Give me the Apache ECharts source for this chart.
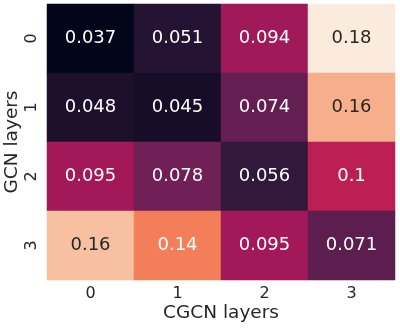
<!DOCTYPE html>
<html>
<head>
<meta charset="utf-8">
<script src="https://cdn.jsdelivr.net/npm/echarts@6/dist/echarts.min.js"></script>
<style>html,body{margin:0;padding:0;background:#fff}#c{width:400px;height:328px}</style>
</head>
<body>
<div id="c"></div>
<script>
const xCategories = ['0', '1', '2', '3'];
const yCategories = ['0', '1', '2', '3'];
const row0 = [0.037, 0.051, 0.094, 0.180];
const row1 = [0.048, 0.045, 0.074, 0.158];
const row2 = [0.095, 0.078, 0.056, 0.104];
const row3 = [0.164, 0.142, 0.095, 0.071];
const rows = [row0, row1, row2, row3];
const xName = 'CGCN layers';
const yName = 'GCN layers';

function fmtG(v) { return String(parseFloat(v.toPrecision(2))); }

const data = [];
rows.forEach((r, yi) => r.forEach((v, xi) => {
  data.push({ value: [xi, yi, v], label: { color: v > 0.15 ? '#262626' : '#ffffff' } });
}));

const chart = echarts.init(document.getElementById('c'), null, { renderer: 'canvas' });
const font = 'DejaVu Sans';
chart.setOption({
  animation: false,
  grid: { left: 47, right: 5, top: 4, bottom: 48, containLabel: false, outerBoundsMode: 'none' },
  xAxis: {
    type: 'category', data: xCategories,
    name: xName, nameLocation: 'middle', nameGap: 24, nameMoveOverlap: false,
    nameTextStyle: { fontFamily: font, fontSize: 18.5, color: '#262626' },
    axisLine: { show: false }, axisTick: { show: false }, splitLine: { show: false },
    axisLabel: { fontFamily: font, fontSize: 16, color: '#262626', margin: 6 }
  },
  yAxis: {
    type: 'category', data: yCategories, inverse: true,
    name: yName, nameLocation: 'middle', nameGap: 25, nameMoveOverlap: false,
    nameTextStyle: { fontFamily: font, fontSize: 18.5, color: '#262626' },
    axisLine: { show: false }, axisTick: { show: false }, splitLine: { show: false },
    axisLabel: { fontFamily: font, fontSize: 16, color: '#262626', margin: 7, rotate: 90 }
  },
  visualMap: {
    show: false, min: 0.037, max: 0.180, dimension: 2,
    inRange: { color: ['#03051a', '#35193e', '#701f57', '#ad1759', '#e13342', '#f37651', '#f6b48f', '#faebdd'] }
  },
  series: [{
    type: 'heatmap', data: data,
    label: { show: true, fontFamily: font, fontSize: 18, formatter: p => fmtG(p.value[2]) },
    itemStyle: { borderWidth: 0 }
  }]
});
</script>
</body>
</html>
